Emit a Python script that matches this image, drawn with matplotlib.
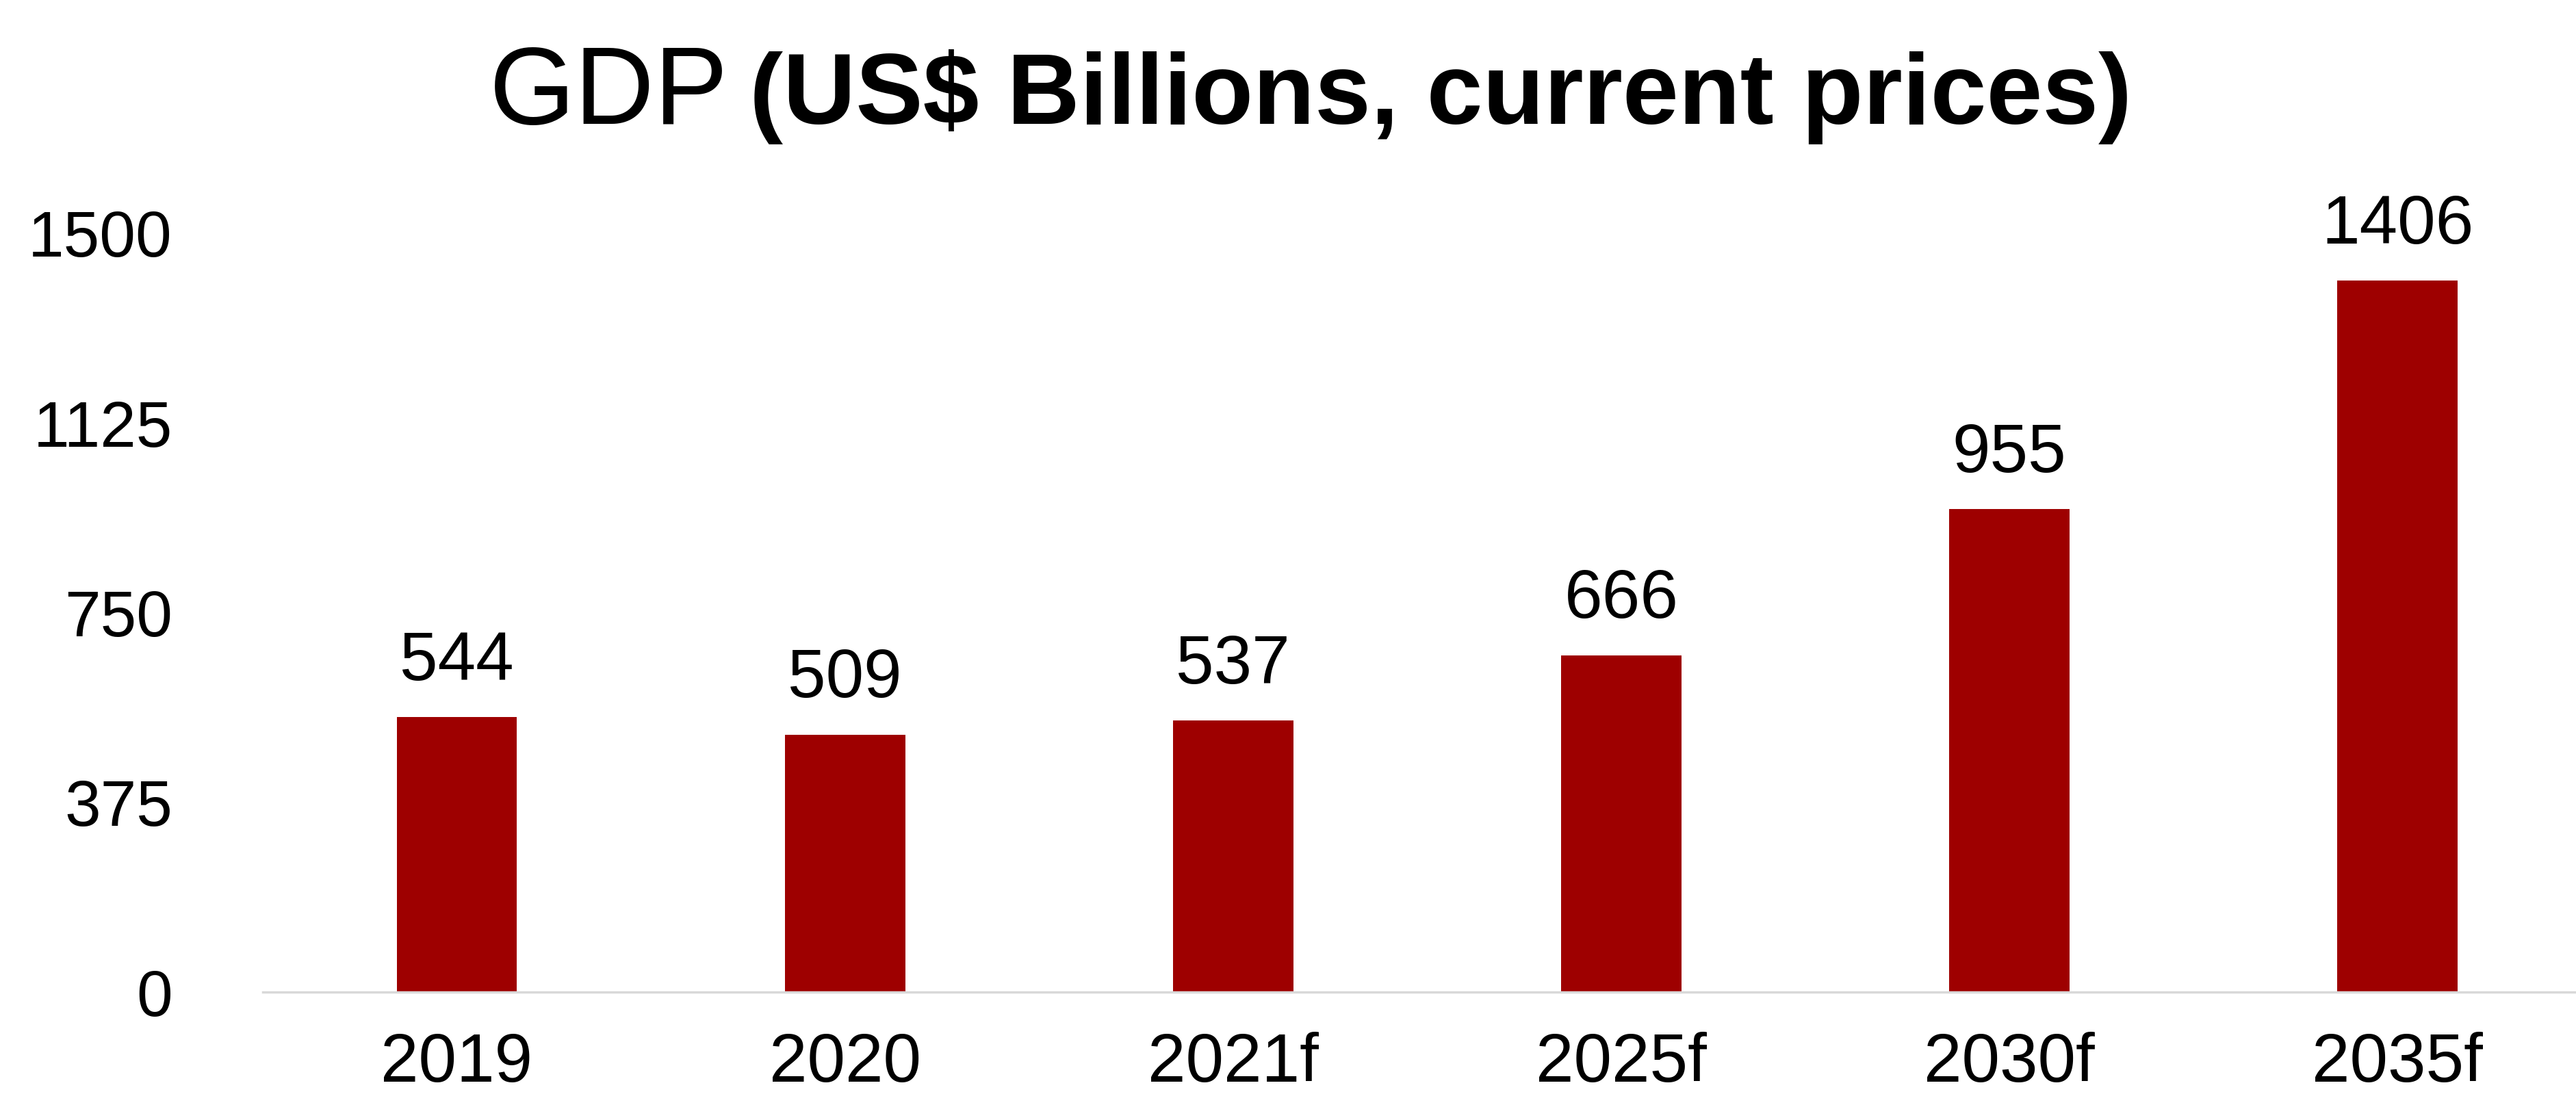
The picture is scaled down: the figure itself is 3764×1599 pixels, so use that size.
import matplotlib
matplotlib.use("Agg")
import matplotlib.pyplot as plt

# GDP figures, US$ billions at current prices
years = ["2019", "2020", "2021f", "2025f", "2030f", "2035f"]
gdp = [544, 509, 537, 666, 955, 1406]
yticks = [0, 375, 750, 1125, 1500]

bar_color = "#9e0000"
plt.rcParams["font.family"] = ["Liberation Sans", "DejaVu Sans"]

fig = plt.figure(figsize=(37.64, 15.99), dpi=100)
ax = fig.add_axes([0.102, 0.0931, 0.898, 0.6937])

x = range(len(years))
ax.bar(x, gdp, width=0.31, color=bar_color)

# value labels above each bar
for xi, v in zip(x, gdp):
    ax.annotate(str(v), (xi, v), xytext=(0, 24), textcoords="offset points",
                ha="center", va="bottom", fontsize=72, clip_on=False)

ax.set_xlim(-0.5, 5.46)
ax.set_ylim(0, 1500)
ax.set_xticks(list(x))
ax.set_xticklabels(years, fontsize=72)
ax.set_yticks(yticks)
ax.set_yticklabels([str(t) for t in yticks], fontsize=68)
ax.tick_params(axis="x", length=0, pad=42)
ax.tick_params(axis="y", length=0, pad=95)

for side in ["top", "right", "left"]:
    ax.spines[side].set_visible(False)
ax.spines["bottom"].set_color("#d9d9d9")
ax.spines["bottom"].set_linewidth(2.5)

# title: regular "GDP" followed by a bold remainder
t1 = fig.text(0.19, 0.887, "GDP", fontsize=116, ha="left", va="baseline")
fig.canvas.draw()
r = fig.canvas.get_renderer()
bb = t1.get_window_extent(r)
space = 30
fig.text((bb.x1 + space) / fig.bbox.width, 0.887, "(US$ Billions, current prices)",
         fontsize=106, fontweight="bold", ha="left", va="baseline")

fig.savefig("out.png", dpi=100, facecolor="white")
